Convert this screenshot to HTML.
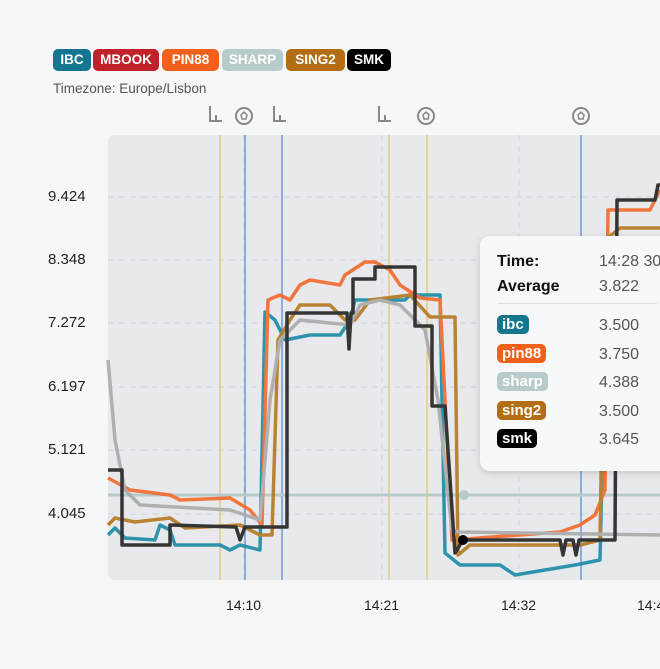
<!DOCTYPE html>
<html><head><style>
body{margin:0;width:660px;height:669px;background:#f6f7f9;font-family:"Liberation Sans",sans-serif;overflow:hidden;position:relative}
.tag{position:absolute;top:49px;height:22px;line-height:22px;border-radius:5px;color:#fff;font-weight:bold;font-size:13.5px;padding:0 5px;box-sizing:border-box;text-align:center}
.yl{position:absolute;left:48px;font-size:15px;color:#222}
.xl{position:absolute;top:597px;font-size:14px;color:#222}
.tt{position:absolute;left:480px;top:236px;width:200px;height:235px;background:#f7f8fa;border-radius:10px;box-shadow:0 2px 8px rgba(0,0,0,.15)}
.tt div{position:absolute;font-size:16px}
.b{border-radius:5px;color:#fff;font-weight:bold;padding:1px 5px;font-size:15px}
</style></head><body>
<div class="tag" style="left:53px;width:38px;background:#15768f">IBC</div>
<div class="tag" style="left:93px;width:66px;background:#c0212a">MBOOK</div>
<div class="tag" style="left:162px;width:57px;background:#f2611c">PIN88</div>
<div class="tag" style="left:222px;width:61px;background:#b7cbcb">SHARP</div>
<div class="tag" style="left:286px;width:59px;background:#b36d12">SING2</div>
<div class="tag" style="left:347px;width:44px;background:#000">SMK</div>
<div style="position:absolute;left:53px;top:81px;font-size:13.5px;color:#555">Timezone: Europe/Lisbon</div>
<svg width="660" height="669" style="position:absolute;left:0;top:0">
<g stroke="#888" stroke-width="2" fill="none">
<path d="M210 106v15h12M216 115v6M274 106v15h12M280 115v6M379 106v15h12M385 115v6"/>
<circle cx="244" cy="116" r="8"/><circle cx="426" cy="116" r="8"/><circle cx="581" cy="116" r="8"/>
<path d="M244 112l3 3-1 4h-4l-1-4z M426 112l3 3-1 4h-4l-1-4z M581 112l3 3-1 4h-4l-1-4z" stroke-width="1.5"/>
</g>
<rect x="108" y="135" width="570" height="445" rx="6" fill="#e8e9ed"/>
<g stroke="#d4d5da" stroke-dasharray="6,5" stroke-width="1">
<path d="M108 197H660M108 260H660M108 323H660M108 387H660M108 450H660M108 514H660M244 135V580M382 135V580M519 135V580"/></g>
<g stroke-width="1.3"><path d="M220 135V580M389 135V580M427 135V580" stroke="#e9c56a"/><path d="M245 135V580M282 135V580M581 135V580" stroke="#5b8fd6"/></g>
<path d="M108 495H660" stroke="#b7cbcb" stroke-width="3"/><circle cx="464" cy="495" r="5" fill="#b7cbcb"/>
<g fill="none" stroke-width="3.5" stroke-linejoin="round" opacity=".9">
<polyline stroke="#1a8aa6" points="108,535 115,528 125,538 155,540 160,525 170,530 175,545 220,545 230,550 240,545 260,550 265,312 275,320 285,340 310,335 340,335 350,320 355,300 405,300 410,295 440,295 445,553 460,565 500,565 515,575 545,570 575,565 600,560 603,430"/>
<polyline stroke="#f26a2a" points="108,478 130,490 170,495 180,500 230,498 250,510 262,525 268,300 280,295 290,300 300,285 310,280 340,285 345,275 365,262 375,262 390,270 400,285 420,298 440,300 452,540 560,532 580,525 595,515 605,490 608,210 650,210 660,190"/>
<polyline stroke="#b5791f" points="108,525 115,518 135,522 170,518 185,528 240,525 260,535 272,535 278,340 290,320 300,305 330,305 345,320 355,320 370,300 410,295 430,317 455,317 458,555 470,545 580,545 600,540 605,240 620,228 660,228"/>
<polyline stroke="#aaaaaa" points="108,360 115,440 125,490 140,505 230,510 260,520 270,400 280,340 300,320 350,325 360,305 380,300 400,305 425,330 438,400 452,530 460,532 660,535"/>
<polyline stroke="#222" points="108,470 122,470 122,545 170,545 170,525 236,527 240,540 245,527 287,527 287,313 347,313 349,349 351,313 353,313 353,279 375,279 375,267 415,267 415,326 432,326 432,406 445,406 455,553 463,540 560,540 563,555 566,540 573,540 576,555 579,540 615,540 617,200 655,200 658,185 660,185"/>
</g>
<circle cx="463" cy="540" r="5" fill="#000"/>
</svg>
<div class="yl" style="top:188px">9.424</div><div class="yl" style="top:251px">8.348</div><div class="yl" style="top:314px">7.272</div><div class="yl" style="top:378px">6.197</div><div class="yl" style="top:441px">5.121</div><div class="yl" style="top:505px">4.045</div>
<div class="xl" style="left:226px">14:10</div><div class="xl" style="left:364px">14:21</div><div class="xl" style="left:501px">14:32</div><div class="xl" style="left:637px">14:43</div>
<div class="tt">
<div style="left:17px;top:17px;font-weight:bold;color:#111">Time:</div><div style="left:119px;top:17px;color:#555">14:28 30</div>
<div style="left:17px;top:42px;font-weight:bold;color:#111">Average</div><div style="left:119px;top:42px;color:#555">3.822</div>
<div style="left:17px;top:67px;width:160px;height:1px;background:#ddd"></div>
<div style="left:17px;top:80px"><span class="b" style="background:#15768f">ibc</span></div><div style="left:119px;top:81px;color:#555">3.500</div>
<div style="left:17px;top:109px"><span class="b" style="background:#f2611c">pin88</span></div><div style="left:119px;top:110px;color:#555">3.750</div>
<div style="left:17px;top:137px"><span class="b" style="background:#b7cbcb">sharp</span></div><div style="left:119px;top:138px;color:#555">4.388</div>
<div style="left:17px;top:166px"><span class="b" style="background:#b36d12">sing2</span></div><div style="left:119px;top:167px;color:#555">3.500</div>
<div style="left:17px;top:194px"><span class="b" style="background:#000">smk</span></div><div style="left:119px;top:195px;color:#555">3.645</div>
</div>
</body></html>
